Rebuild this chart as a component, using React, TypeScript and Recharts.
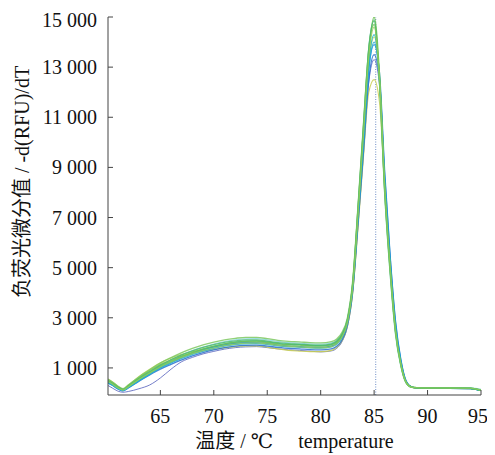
import { LineChart, Line, XAxis, YAxis, ReferenceLine, Label } from 'recharts';

const temps = [60.1, 60.5, 61, 61.5, 62, 63, 64, 65, 66, 67, 68, 69, 70, 71, 72, 73, 74, 75, 76, 77, 78, 79, 80, 81, 81.5, 82, 82.5, 83, 83.5, 84, 84.5, 85, 85.5, 86, 86.5, 87, 87.5, 88, 88.5, 89, 90, 92, 94, 95];

// -d(RFU)/dT per well, grouped by colour
const darkBlue = [300, 200, 80, 30, 60, 170, 320, 600, 950, 1250, 1420, 1560, 1660, 1750, 1810, 1840, 1850, 1810, 1760, 1720, 1700, 1670, 1640, 1680, 1780, 2050, 2650, 4000, 6700, 9500, 12400, 13300, 12300, 8400, 5300, 2700, 1250, 440, 230, 200, 190, 180, 170, 90];
const yellow1 = [520, 420, 250, 130, 290, 620, 900, 1150, 1330, 1470, 1580, 1670, 1740, 1800, 1850, 1880, 1880, 1830, 1760, 1700, 1670, 1650, 1650, 1700, 1820, 2080, 2650, 4000, 6600, 9400, 12000, 12500, 11600, 8100, 5100, 2600, 1200, 430, 230, 200, 190, 180, 170, 100];
const yellow2 = [560, 450, 280, 160, 320, 660, 950, 1210, 1400, 1540, 1650, 1750, 1840, 1920, 1990, 2030, 2040, 1990, 1920, 1870, 1850, 1830, 1820, 1870, 1980, 2260, 2850, 4300, 7100, 10100, 13100, 14200, 12600, 8300, 5100, 2600, 1200, 430, 230, 210, 200, 190, 180, 110];
const blue1 = [420, 320, 170, 90, 200, 470, 720, 950, 1140, 1320, 1480, 1610, 1720, 1810, 1870, 1900, 1910, 1870, 1820, 1780, 1760, 1730, 1720, 1760, 1860, 2120, 2700, 4100, 6800, 9600, 12500, 13500, 12500, 8600, 5400, 2800, 1300, 460, 240, 200, 190, 190, 180, 100];
const blue2 = [410, 320, 190, 110, 230, 510, 770, 1020, 1230, 1420, 1580, 1720, 1830, 1920, 1980, 2010, 2010, 1970, 1910, 1870, 1850, 1830, 1820, 1870, 1970, 2230, 2800, 4200, 7000, 9900, 12900, 13900, 12800, 8800, 5500, 2900, 1350, 480, 250, 210, 200, 190, 180, 100];
const cyan1 = [450, 350, 200, 110, 240, 520, 780, 1040, 1240, 1430, 1590, 1740, 1860, 1960, 2030, 2070, 2080, 2040, 1980, 1940, 1930, 1900, 1890, 1940, 2040, 2300, 2870, 4300, 7200, 10200, 13200, 14300, 12600, 8300, 5100, 2600, 1200, 430, 230, 200, 190, 190, 180, 100];
const cyan2 = [400, 310, 170, 90, 210, 480, 740, 990, 1190, 1380, 1530, 1670, 1780, 1870, 1930, 1960, 1970, 1930, 1880, 1840, 1830, 1800, 1790, 1840, 1940, 2200, 2780, 4150, 7000, 9900, 12900, 14000, 12500, 8400, 5200, 2700, 1250, 450, 240, 210, 200, 190, 180, 100];
const lightCyan = [470, 370, 220, 120, 250, 560, 830, 1100, 1320, 1520, 1690, 1830, 1950, 2050, 2120, 2160, 2170, 2120, 2060, 2010, 1990, 1960, 1950, 2000, 2100, 2360, 2950, 4400, 7400, 10600, 13800, 14900, 12300, 7800, 4700, 2300, 1050, 380, 230, 220, 220, 220, 210, 150];
const green1 = [480, 380, 230, 130, 260, 560, 820, 1080, 1280, 1470, 1620, 1760, 1870, 1960, 2020, 2060, 2070, 2020, 1960, 1920, 1910, 1880, 1870, 1920, 2020, 2290, 2880, 4350, 7350, 10500, 13600, 15000, 12700, 8100, 5000, 2500, 1150, 420, 240, 210, 200, 200, 190, 110];
const green2 = [540, 440, 280, 170, 320, 640, 920, 1190, 1410, 1610, 1780, 1920, 2030, 2120, 2180, 2220, 2220, 2170, 2100, 2060, 2040, 2010, 2000, 2050, 2150, 2420, 3000, 4500, 7500, 10700, 13700, 14700, 12400, 7900, 4800, 2400, 1100, 400, 230, 210, 210, 200, 190, 120];
const green3 = [500, 400, 240, 140, 280, 590, 860, 1120, 1330, 1520, 1680, 1820, 1930, 2020, 2080, 2120, 2120, 2070, 2010, 1970, 1950, 1920, 1910, 1960, 2070, 2340, 2930, 4400, 7450, 10650, 13750, 14850, 12500, 8000, 4900, 2450, 1120, 410, 230, 210, 200, 200, 190, 110];
const green4 = [460, 360, 210, 120, 250, 540, 790, 1040, 1240, 1420, 1570, 1700, 1800, 1890, 1950, 1990, 2000, 1960, 1900, 1860, 1840, 1810, 1800, 1850, 1960, 2230, 2820, 4250, 7200, 10300, 13400, 14600, 12600, 8200, 5000, 2500, 1150, 420, 230, 210, 200, 200, 190, 110];

const xTicks = [65, 70, 75, 80, 85, 90, 95];
const yTicks = [1000, 3000, 5000, 7000, 9000, 11000, 13000, 15000];
const peakTemp = 85.15;

const series = [
  { key: 'darkBlue', values: darkBlue, color: '#4a56b8', width: 0.9 },
  { key: 'yellow1', values: yellow1, color: '#c9cf4e', width: 1.1 },
  { key: 'yellow2', values: yellow2, color: '#b8d45a', width: 1.1 },
  { key: 'blue1', values: blue1, color: '#2a6fcc', width: 1.3 },
  { key: 'blue2', values: blue2, color: '#1b8fd2', width: 1.2 },
  { key: 'cyan1', values: cyan1, color: '#16b2c8', width: 1.3 },
  { key: 'cyan2', values: cyan2, color: '#22a9d8', width: 1.2 },
  { key: 'lightCyan', values: lightCyan, color: '#86d6dc', width: 1.1 },
  { key: 'green1', values: green1, color: '#6fc24f', width: 1.5 },
  { key: 'green2', values: green2, color: '#7ec860', width: 1.4 },
  { key: 'green3', values: green3, color: '#4fba6a', width: 1.3 },
  { key: 'green4', values: green4, color: '#92cc5a', width: 1.2 },
];

const data = temps.map((t, i) => {
  const row: Record<string, number> = { t };
  series.forEach((s) => {
    row[s.key] = s.values[i];
  });
  return row;
});

const font = "'Liberation Serif', 'DejaVu Serif', 'Noto Sans CJK SC', serif";
const textStyle = { fontFamily: font, fontSize: 20, fill: '#111' };
const fmt = (v: number) => (v >= 1000 ? `${Math.floor(v / 1000)} ${String(v % 1000).padStart(3, '0')}` : String(v));

export default function App() {
  return (
    <div style={{ fontFamily: font }}>
      <LineChart width={480} height={447} data={data} margin={{ top: 9, right: 7, left: 0, bottom: 0 }}>
        <XAxis
          dataKey="t"
          type="number"
          domain={[60.1, 95]}
          ticks={xTicks}
          allowDataOverflow
          height={60}
          tickSize={-5}
          tickMargin={19}
          axisLine={{ stroke: '#444' }}
          tickLine={{ stroke: '#444' }}
          tick={{ fontSize: 20, fill: '#111', style: textStyle }}
        >
          <Label
            content={({ viewBox }: any) => (
              <text
                x={viewBox.x + viewBox.width / 2}
                y={viewBox.y + 53}
                textAnchor="middle"
                style={textStyle}
              >
                {'温度 / ℃\u2003 temperature'}
              </text>
            )}
          />
        </XAxis>
        <YAxis
          type="number"
          domain={[-80, 15000]}
          ticks={yTicks}
          allowDataOverflow
          width={100}
          tickSize={-5}
          tickMargin={16}
          tickFormatter={fmt}
          axisLine={{ stroke: '#444' }}
          tickLine={{ stroke: '#444' }}
          tick={{ fontSize: 20, fill: '#111', style: textStyle }}
        >
          <Label
            content={() => (
              <text
                x={14}
                y={174}
                transform="rotate(-90, 14, 174)"
                textAnchor="middle"
                dominantBaseline="central"
                style={textStyle}
              >
                负荧光微分值 / -d(RFU)/dT
              </text>
            )}
          />
        </YAxis>
        <ReferenceLine x={peakTemp} stroke="#6f8fc6" strokeWidth={1} strokeDasharray="1 1.5" />
        {series.map((s) => (
          <Line
            key={s.key}
            dataKey={s.key}
            type="monotone"
            stroke={s.color}
            strokeWidth={s.width}
            strokeOpacity={0.85}
            dot={false}
            activeDot={false}
            isAnimationActive={false}
          />
        ))}
      </LineChart>
    </div>
  );
}
